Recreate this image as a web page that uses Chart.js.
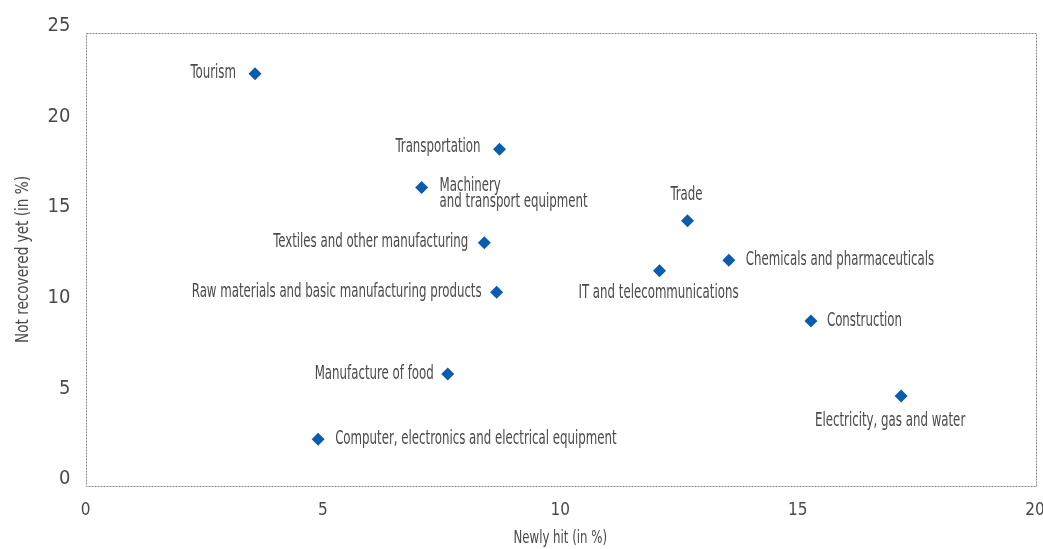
<!DOCTYPE html>
<html>
<head>
<meta charset="utf-8">
<script src="https://cdn.jsdelivr.net/npm/chart.js@4/dist/chart.umd.min.js"></script>
<style>
  html, body { margin: 0; padding: 0; background: #fff; }
  #wrap { width: 1043px; height: 549px; position: relative; }
</style>
</head>
<body>
<div id="wrap"><canvas id="c"></canvas></div>
<script>
// ---- data ----
const sectors = [
  "Tourism",
  "Transportation",
  "Machinery\nand transport equipment",
  "Trade",
  "Chemicals and pharmaceuticals",
  "IT and telecommunications",
  "Construction",
  "Electricity, gas and water",
  "Textiles and other manufacturing",
  "Raw materials and basic manufacturing products",
  "Manufacture of food",
  "Computer, electronics and electrical equipment"
];
const newlyHit     = [3.57, 8.72, 7.08, 12.68, 13.55, 12.09, 15.28, 17.18, 8.40, 8.66, 7.63, 4.90];
const notRecovered = [22.75, 18.58, 16.48, 14.64, 12.46, 11.88, 9.11, 4.97, 13.43, 10.69, 6.18, 2.58];
const xTickValues = [0, 5, 10, 15, 20];
const yTickValues = [0, 5, 10, 15, 20, 25];
const xTitle = "Newly hit (in %)";
const yTitle = "Not recovered yet (in %)";

// ---- styling ----
const FONT = "'Liberation Sans Narrow', 'DejaVu Sans Condensed', 'Liberation Sans', sans-serif";
const TEXT = '#4a4a4a';
const MARK = '#0b5cad';

// label placement (styling only)
const labelPlace = {
  "Tourism": {align: 'right', dx: -19, dy: -1},
  "Transportation": {align: 'right', dx: -19, dy: -2},
  "Machinery\nand transport equipment": {align: 'left', dx: 18, dy: -1},
  "Trade": {align: 'center', dx: -1, dy: -26},
  "Chemicals and pharmaceuticals": {align: 'left', dx: 17, dy: 0},
  "IT and telecommunications": {align: 'center', dx: -1, dy: 22},
  "Construction": {align: 'left', dx: 16, dy: 0},
  "Electricity, gas and water": {align: 'center', dx: -11, dy: 25},
  "Textiles and other manufacturing": {align: 'right', dx: -16, dy: -1},
  "Raw materials and basic manufacturing products": {align: 'right', dx: -15, dy: 0},
  "Manufacture of food": {align: 'right', dx: -14, dy: 0},
  "Computer, electronics and electrical equipment": {align: 'left', dx: 17, dy: 0}
};

function squeezedText(ctx, text, x, y, sx, rot, align) {
  ctx.save();
  ctx.translate(x, y);
  if (rot) ctx.rotate(rot);
  ctx.scale(sx, 1);
  ctx.textAlign = align;
  ctx.fillText(text, 0, 0);
  ctx.restore();
}

const frame = {
  id: 'frame',
  beforeDatasetsDraw(chart) {
    const {ctx, chartArea: a} = chart;
    ctx.save();
    ctx.strokeStyle = '#8a8a8a';
    ctx.lineWidth = 1;
    ctx.setLineDash([2, 1]);
    ctx.strokeRect(Math.round(a.left) + 0.5, Math.round(a.top) + 0.5,
                   Math.round(a.right - a.left), Math.round(a.bottom - a.top));
    ctx.restore();
  }
};

const axisTitles = {
  id: 'axisTitles',
  afterDraw(chart) {
    const {ctx, chartArea: a} = chart;
    ctx.save();
    ctx.fillStyle = TEXT;
    ctx.textBaseline = 'middle';
    ctx.font = '17px ' + FONT;
    squeezedText(ctx, xTitle, (a.left + a.right) / 2, 539, 0.77, 0, 'center');
    ctx.font = '18px ' + FONT;
    squeezedText(ctx, yTitle, 23, (a.top + a.bottom) / 2, 0.84, -Math.PI / 2, 'center');
    ctx.restore();
  }
};

const pointLabels = {
  id: 'pointLabels',
  afterDatasetsDraw(chart) {
    const {ctx} = chart;
    const meta = chart.getDatasetMeta(0);
    ctx.save();
    ctx.fillStyle = TEXT;
    ctx.font = '19px ' + FONT;
    ctx.textBaseline = 'middle';
    meta.data.forEach((pt, i) => {
      const name = sectors[i];
      const p = labelPlace[name] || {align: 'left', dx: 16, dy: 0};
      name.split('\n').forEach((ln, k) => {
        squeezedText(ctx, ln, pt.x + p.dx, pt.y + p.dy + k * 16, 0.69, 0, p.align);
      });
    });
    ctx.restore();
  }
};

new Chart(document.getElementById('c'), {
  type: 'scatter',
  data: {
    datasets: [{
      data: newlyHit.map((x, i) => ({x: x, y: notRecovered[i]})),
      pointStyle: 'rectRot',
      pointRadius: 6.5,
      pointHoverRadius: 6.5,
      backgroundColor: MARK,
      borderColor: MARK,
      borderWidth: 0
    }]
  },
  options: {
    responsive: true,
    maintainAspectRatio: false,
    animation: false,
    events: [],
    layout: {padding: {top: 33, right: 8, left: 0, bottom: 0}},
    plugins: {legend: {display: false}, tooltip: {enabled: false}},
    scales: {
      x: {
        type: 'linear',
        min: xTickValues[0], max: xTickValues[xTickValues.length - 1],
        afterBuildTicks: s => { s.ticks = xTickValues.map(v => ({value: v})); },
        afterFit: s => { s.height = 63; s.paddingLeft = 0; s.paddingRight = 0; },
        grid: {display: false, drawTicks: false},
        border: {display: false},
        ticks: {padding: 14, color: TEXT, font: {family: FONT, size: 17}, maxRotation: 0},
        title: {display: false}
      },
      y: {
        type: 'linear',
        min: yTickValues[0], max: yTickValues[yTickValues.length - 1],
        afterBuildTicks: s => { s.ticks = yTickValues.map(v => ({value: v})); },
        afterFit: s => { s.width = 85.5; s.paddingTop = 0; s.paddingBottom = 0; },
        grid: {display: false, drawTicks: false},
        border: {display: false},
        ticks: {padding: 15, labelOffset: -7, color: TEXT, font: {family: FONT, size: 20}},
        title: {display: false}
      }
    }
  },
  plugins: [frame, pointLabels, axisTitles]
});
</script>
</body>
</html>
